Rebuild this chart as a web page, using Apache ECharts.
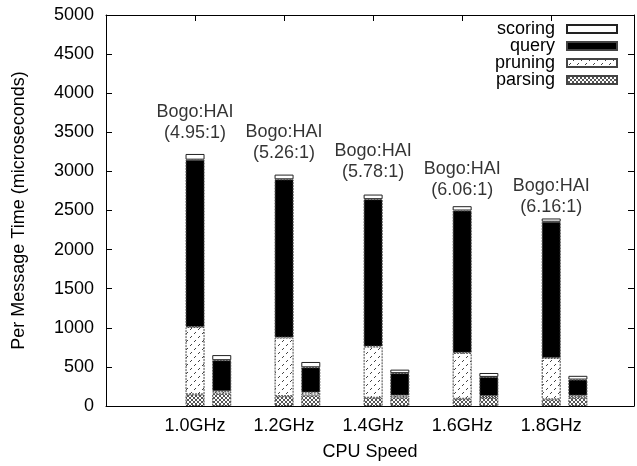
<!DOCTYPE html>
<html>
<head>
<meta charset="utf-8">
<script src="https://cdn.jsdelivr.net/npm/echarts@6/dist/echarts.min.js"></script>
<style>
html,body{margin:0;padding:0;background:#fff;}
#chart{width:637px;height:466px;}
</style>
</head>
<body>
<div id="chart"></div>
<script>
// ---- data ----
var categories = ['1.0GHz', '1.2GHz', '1.4GHz', '1.6GHz', '1.8GHz'];
var bogoParsing = [148, 125, 105, 92, 85];
var bogoPruning = [862, 750, 655, 588, 530];
var bogoQuery   = [2140, 2024, 1885, 1820, 1741];
var bogoScoring = [73, 60, 59, 55, 42];
var haiParsing  = [158, 135, 108, 102, 105];
var haiPruning  = [31, 37, 26, 26, 27];
var haiQuery    = [397, 323, 286, 244, 206];
var haiScoring  = [65, 68, 45, 50, 48];
var ratioLabels = ['(4.95:1)', '(5.26:1)', '(5.78:1)', '(6.06:1)', '(6.16:1)'];
var labelY      = [3620, 3375, 3125, 2895, 2675];
var yTicks      = [0, 500, 1000, 1500, 2000, 2500, 3000, 3500, 4000, 4500, 5000];

// ---- patterns ----
function makePattern(kind) {
  var c = document.createElement('canvas');
  var ctx = c.getContext('2d');
  if (kind === 'pruning') {
    c.width = 8; c.height = 8;
    ctx.fillStyle = '#fff'; ctx.fillRect(0, 0, 8, 8);
    ctx.fillStyle = '#444';
    ctx.fillRect(7, 0, 1, 1);
    ctx.fillRect(6, 1, 1, 1);
    ctx.fillRect(3, 4, 1, 1);
    ctx.fillRect(2, 5, 1, 1);
  } else if (kind === 'parsing') {
    c.width = 4; c.height = 4;
    ctx.fillStyle = '#fff'; ctx.fillRect(0, 0, 4, 4);
    ctx.fillStyle = '#555';
    ctx.fillRect(0, 0, 1, 1); ctx.fillRect(1, 1, 1, 1);
    ctx.fillRect(2, 2, 1, 1); ctx.fillRect(3, 3, 1, 1);
    ctx.fillRect(3, 0, 1, 1); ctx.fillRect(2, 1, 1, 1);
    ctx.fillRect(1, 2, 1, 1); ctx.fillRect(0, 3, 1, 1);
  }
  return { image: c, repeat: 'repeat' };
}
var pruningFill = makePattern('pruning');
var parsingFill = makePattern('parsing');

var FONT = 'Liberation Sans, Arial, Helvetica, sans-serif';
var FS = 18;
var HAI_SHIFT = 0.3;

// data rows are [value, position]; encode maps column 1 to x, column 0 to y
function pts(arr, shift) {
  return arr.map(function (v, i) { return [v, i + shift]; });
}

var styles = {
  scoring: { color: '#fff', borderColor: '#222', borderWidth: 1 },
  query:   { color: '#000', borderColor: '#444', borderWidth: 1, borderType: [2, 1] },
  pruning: { color: pruningFill, borderColor: '#444', borderWidth: 1, borderType: [2, 1] },
  parsing: { color: parsingFill, borderColor: '#444', borderWidth: 1, borderType: [2, 1] }
};

function barSeries(name, stack, arr, shift) {
  return {
    type: 'bar', name: name, stack: stack,
    barWidth: 19, barGap: '-100%',
    encode: { x: 1, y: 0 },
    data: pts(arr, shift),
    itemStyle: styles[name],
    emphasis: { disabled: true },
    z: 3
  };
}

var series = [
  barSeries('parsing', 'bogo', bogoParsing, 0),
  barSeries('pruning', 'bogo', bogoPruning, 0),
  barSeries('query', 'bogo', bogoQuery, 0),
  barSeries('scoring', 'bogo', bogoScoring, 0),
  barSeries('parsing', 'hai', haiParsing, HAI_SHIFT),
  barSeries('pruning', 'hai', haiPruning, HAI_SHIFT),
  barSeries('query', 'hai', haiQuery, HAI_SHIFT),
  barSeries('scoring', 'hai', haiScoring, HAI_SHIFT),
  {
    type: 'scatter', name: 'labels', symbolSize: 0,
    data: labelY.map(function (v, i) { return [i, v]; }),
    label: {
      show: true, position: 'inside',
      formatter: function (p) { return 'Bogo:HAI\n' + ratioLabels[p.dataIndex]; },
      color: '#000', fontSize: FS, fontFamily: FONT, lineHeight: 21,
      align: 'center', verticalAlign: 'middle'
    },
    z: 5
  }
];

var chart = echarts.init(document.getElementById('chart'), null, { renderer: 'canvas' });
chart.setOption({
  animation: false,
  backgroundColor: '#fff',
  textStyle: { fontFamily: FONT },
  grid: { left: 106, right: 3, top: 15, bottom: 59 },
  legend: {
    data: ['scoring', 'query', 'pruning', 'parsing'],
    orient: 'vertical', right: 19, top: 20, align: 'right',
    itemWidth: 50, itemHeight: 8, itemGap: -1, padding: 0,
    icon: 'rect', selectedMode: false,
    textStyle: { fontSize: FS, lineHeight: 15, color: '#000', fontFamily: FONT, padding: [0, 7, 0, 0] }
  },
  xAxis: [{
    type: 'value', position: 'bottom', min: -1, max: 4.93, interval: 1,
    name: 'CPU Speed', nameLocation: 'middle', nameGap: 37,
    nameTextStyle: { fontSize: FS, color: '#000', fontFamily: FONT },
    axisLine: { show: true, onZero: false, lineStyle: { color: '#000', width: 1 } },
    axisTick: { show: true, inside: true, length: 6, lineStyle: { color: '#000' } },
    splitLine: { show: false },
    axisLabel: {
      margin: 11, fontSize: FS, color: '#000', fontFamily: FONT,
      showMinLabel: true, showMaxLabel: true,
      formatter: function (v) {
        var i = Math.round(v);
        return (Math.abs(v - i) < 1e-6 && categories[i] !== undefined) ? categories[i] : '';
      }
    }
  }, {
    type: 'value', position: 'top', min: -1, max: 4.93, interval: 1,
    axisLine: { show: true, onZero: false, lineStyle: { color: '#000', width: 1 } },
    axisTick: { show: true, inside: true, length: 6, lineStyle: { color: '#000' } },
    axisLabel: { show: false }, splitLine: { show: false }
  }],
  yAxis: [{
    type: 'value', position: 'left', min: yTicks[0], max: yTicks[yTicks.length - 1], interval: 500,
    name: 'Per Message Time (microseconds)', nameLocation: 'middle', nameGap: 78,
    nameTextStyle: { fontSize: FS, color: '#000', fontFamily: FONT },
    axisLine: { show: true, onZero: false, lineStyle: { color: '#000', width: 1 } },
    axisTick: { show: true, inside: true, length: 6, lineStyle: { color: '#000' } },
    splitLine: { show: false },
    axisLabel: {
      margin: 12, fontSize: FS, color: '#000', fontFamily: FONT,
      formatter: function (v) { return String(v); }
    }
  }, {
    type: 'value', position: 'right', min: yTicks[0], max: yTicks[yTicks.length - 1], interval: 500,
    axisLine: { show: true, onZero: false, lineStyle: { color: '#000', width: 1 } },
    axisTick: { show: true, inside: true, length: 6, lineStyle: { color: '#000' } },
    axisLabel: { show: false }, splitLine: { show: false }
  }],
  series: series
});
</script>
</body>
</html>
